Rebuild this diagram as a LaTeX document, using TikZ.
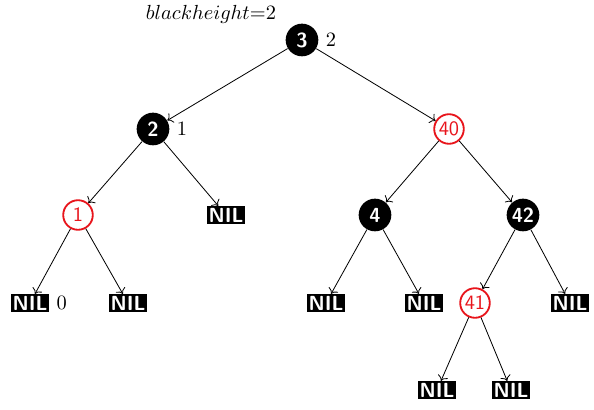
\documentclass[tikz,border=0pt]{standalone}
\usepackage{tikz}
\usetikzlibrary{arrows.meta,positioning}
\definecolor{rbred}{HTML}{E8141B}

\begin{document}
\begin{tikzpicture}[x=0.49pt,y=-0.49pt,
    blk/.style={circle,fill=black,text=white,font=\sffamily\bfseries,minimum size=16pt,inner sep=0pt},
    rd/.style={circle,draw=rbred,line width=0.9pt,fill=white,text=rbred,font=\sffamily,minimum size=14.5pt,inner sep=0pt},
    nil/.style={rectangle,fill=black,text=white,font=\sffamily\bfseries,inner sep=0.8pt,minimum height=8.5pt},
    edge/.style={-{To[length=2.5pt]},thin}]
        \useasboundingbox (0,0) rectangle (594,410);
        \node (bh) at (211,14) {$blackheight{=}2$};
        % level 0
        \node[blk,label={[font=\normalsize]right:2}] (n3) at (302,40) {3};
        % level 1
        \node[blk,label={[font=\normalsize]right:1}] (n2) at (153,129) {2};
        \node[rd] (n40) at (449,129) {40};
        % level 2
        \node[rd] (n1) at (78,215) {1};
        \node[nil] (nilA) at (226,215) {NIL};
        \node[blk] (n4) at (375,215) {4};
        \node[blk] (n42) at (523,215) {42};
        % level 3
        \node[nil,label={[font=\normalsize]right:0}] (nilB) at (30,303) {NIL};
        \node[nil] (nilC) at (128,303) {NIL};
        \node[nil] (nilD) at (326,303) {NIL};
        \node[nil] (nilE) at (424,303) {NIL};
        \node[rd] (n41) at (475,303) {41};
        \node[nil] (nilF) at (570,303) {NIL};
        % level 4
        \node[nil] (nilG) at (437,390) {NIL};
        \node[nil] (nilH) at (511,390) {NIL};
        % edges
        \draw[edge] (n3) -- (n2);
        \draw[edge] (n3) -- (n40);
        \draw[edge] (n2) -- (n1);
        \draw[edge] (n2) -- (nilA);
        \draw[edge] (n40) -- (n4);
        \draw[edge] (n40) -- (n42);
        \draw[edge] (n1) -- (nilB);
        \draw[edge] (n1) -- (nilC);
        \draw[edge] (n4) -- (nilD);
        \draw[edge] (n4) -- (nilE);
        \draw[edge] (n42) -- (n41);
        \draw[edge] (n42) -- (nilF);
        \draw[edge] (n41) -- (nilG);
        \draw[edge] (n41) -- (nilH);
\end{tikzpicture}
\end{document}
